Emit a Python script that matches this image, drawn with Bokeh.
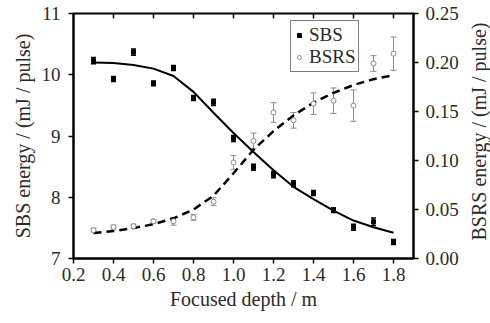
import math
from bokeh.plotting import figure
from bokeh.models import (ColumnDataSource, Range1d, LinearAxis, FixedTicker, Whisker,
                          TeeHead, Legend, LegendItem, NumeralTickFormatter, Label)
from bokeh.embed import file_html
from bokeh.resources import INLINE

# ---- data ----
depth = [0.3, 0.4, 0.5, 0.6, 0.7, 0.8, 0.9, 1.0, 1.1, 1.2, 1.3, 1.4, 1.5, 1.6, 1.7, 1.8]
sbs = [10.23, 9.93, 10.37, 9.86, 10.11, 9.62, 9.55, 8.96, 8.49, 8.37, 8.22, 8.07, 7.79, 7.51, 7.60, 7.27]
sbs_err = [0.05, 0.04, 0.05, 0.04, 0.04, 0.04, 0.05, 0.05, 0.05, 0.05, 0.05, 0.04, 0.04, 0.05, 0.06, 0.04]
bsrs = [0.029, 0.032, 0.033, 0.038, 0.038, 0.042, 0.058, 0.098, 0.120, 0.149, 0.141, 0.158, 0.161, 0.156, 0.199, 0.209]
bsrs_err = [0.002, 0.002, 0.002, 0.002, 0.004, 0.003, 0.004, 0.007, 0.008, 0.010, 0.008, 0.011, 0.013, 0.016, 0.008, 0.017]

fit_depth = [0.3, 0.4, 0.5, 0.6, 0.7, 0.8, 0.9, 1.0, 1.1, 1.2, 1.3, 1.4, 1.5, 1.6, 1.7, 1.8]
sbs_fit = [10.20, 10.19, 10.16, 10.10, 9.98, 9.72, 9.38, 9.05, 8.74, 8.44, 8.17, 7.97, 7.78, 7.62, 7.51, 7.42]
bsrs_fit = [0.026, 0.028, 0.031, 0.035, 0.041, 0.050, 0.064, 0.087, 0.111, 0.130, 0.146, 0.159, 0.169, 0.177, 0.183, 0.187]

x_ticks = [0.2, 0.4, 0.6, 0.8, 1.0, 1.2, 1.4, 1.6, 1.8]
top_ticks = [0.4, 0.6, 0.8, 1.0, 1.2, 1.4, 1.6, 1.8]
left_ticks = [7, 8, 9, 10, 11]
right_ticks = [0.0, 0.05, 0.10, 0.15, 0.20, 0.25]

FONT = "Liberation Serif"
TXT = "#2a2a2a"
Y_MIN, Y_MAX = 7, 11

p = figure(frame_width=340, frame_height=245,
           x_range=Range1d(0.2, 1.9), y_range=Range1d(Y_MIN, Y_MAX),
           output_backend="svg", toolbar_location=None,
           min_border_left=73, min_border_right=77, min_border_top=13, min_border_bottom=65)
p.extra_y_ranges = {"bsrs": Range1d(0, 0.25)}
p.grid.visible = False
p.outline_line_color = "black"
p.outline_line_width = 2
p.background_fill_color = "white"
p.border_fill_color = "white"


def style_axis(ax):
    ax.axis_line_width = 2
    ax.axis_line_color = "black"
    ax.major_tick_line_width = 1.5
    ax.major_tick_line_color = "black"
    ax.minor_tick_line_color = None
    ax.major_tick_in = 0
    ax.major_tick_out = 5
    ax.major_label_text_font = FONT
    ax.major_label_text_font_size = "19px"
    ax.major_label_text_color = TXT
    ax.axis_label_text_font = FONT
    ax.axis_label_text_font_size = "20px"
    ax.axis_label_text_font_style = "normal"
    ax.axis_label_text_color = TXT


xa = p.xaxis[0]
style_axis(xa)
xa.ticker = FixedTicker(ticks=x_ticks)
xa.formatter = NumeralTickFormatter(format="0.0")
xa.axis_label = "Focused depth / m"
xa.axis_label_standoff = 4
xa.major_label_standoff = 4

ya = p.yaxis[0]
style_axis(ya)
ya.ticker = FixedTicker(ticks=left_ticks)
ya.axis_label = "SBS energy / (mJ / pulse)"
ya.axis_label_standoff = 5
ya.major_label_standoff = 8

# right axis: ticks and tick labels
ra = LinearAxis(y_range_name="bsrs")
style_axis(ra)
ra.ticker = FixedTicker(ticks=right_ticks)
ra.formatter = NumeralTickFormatter(format="0.00")
ra.major_label_standoff = 7
p.add_layout(ra, "right")

# right axis title, reading bottom-to-top, placed in the right side panel
p.add_layout(Label(x=17, y=127, x_units="screen", y_units="screen",
                   text="BSRS energy / (mJ / pulse)", angle=math.pi / 2,
                   text_align="center", text_baseline="middle",
                   text_font=FONT, text_font_size="20px", text_color=TXT), "right")

# inward ticks along the top edge
tick_len = 5 * (Y_MAX - Y_MIN) / 245
p.segment(x0=top_ticks, y0=[Y_MAX] * len(top_ticks), x1=top_ticks,
          y1=[Y_MAX - tick_len] * len(top_ticks), line_color="black", line_width=1.5)

# ---- fits ----
p.line(fit_depth, sbs_fit, line_color="black", line_width=2)
p.line(fit_depth, bsrs_fit, line_color="black", line_width=2.5, line_dash="8 5",
       y_range_name="bsrs")

# ---- SBS points ----
s_src = ColumnDataSource(dict(x=depth, y=sbs,
                              lo=[v - e for v, e in zip(sbs, sbs_err)],
                              hi=[v + e for v, e in zip(sbs, sbs_err)]))
p.add_layout(Whisker(source=s_src, base="x", lower="lo", upper="hi",
                     line_color="black", line_width=1.5,
                     lower_head=TeeHead(size=5, line_color="black", line_width=1.5),
                     upper_head=TeeHead(size=5, line_color="black", line_width=1.5)))
sbs_r = p.scatter("x", "y", source=s_src, marker="square", size=4,
                  fill_color="black", line_color="black")

# ---- BSRS points ----
b_src = ColumnDataSource(dict(x=depth, y=bsrs,
                              lo=[v - e for v, e in zip(bsrs, bsrs_err)],
                              hi=[v + e for v, e in zip(bsrs, bsrs_err)]))
p.add_layout(Whisker(source=b_src, base="x", lower="lo", upper="hi", y_range_name="bsrs",
                     line_color="#8a8a8a", line_width=1,
                     lower_head=TeeHead(size=6, line_color="#8a8a8a", line_width=1),
                     upper_head=TeeHead(size=6, line_color="#8a8a8a", line_width=1)))
bsrs_r = p.scatter("x", "y", source=b_src, marker="circle", size=5, y_range_name="bsrs",
                   fill_color="white", line_color="#8a8a8a", line_width=1)

legend = Legend(items=[LegendItem(label="SBS", renderers=[sbs_r]),
                       LegendItem(label="BSRS", renderers=[bsrs_r])],
                location=(217, 186), orientation="vertical",
                label_text_font=FONT, label_text_font_size="19px", label_text_color=TXT,
                glyph_width=10, glyph_height=16, label_height=16, label_standoff=5,
                label_width=10, spacing=0, padding=3, margin=0,
                border_line_color="black", border_line_width=1.5,
                background_fill_color="white", background_fill_alpha=1)
p.add_layout(legend, "center")

open("out.html", "w").write(file_html(p, INLINE))
